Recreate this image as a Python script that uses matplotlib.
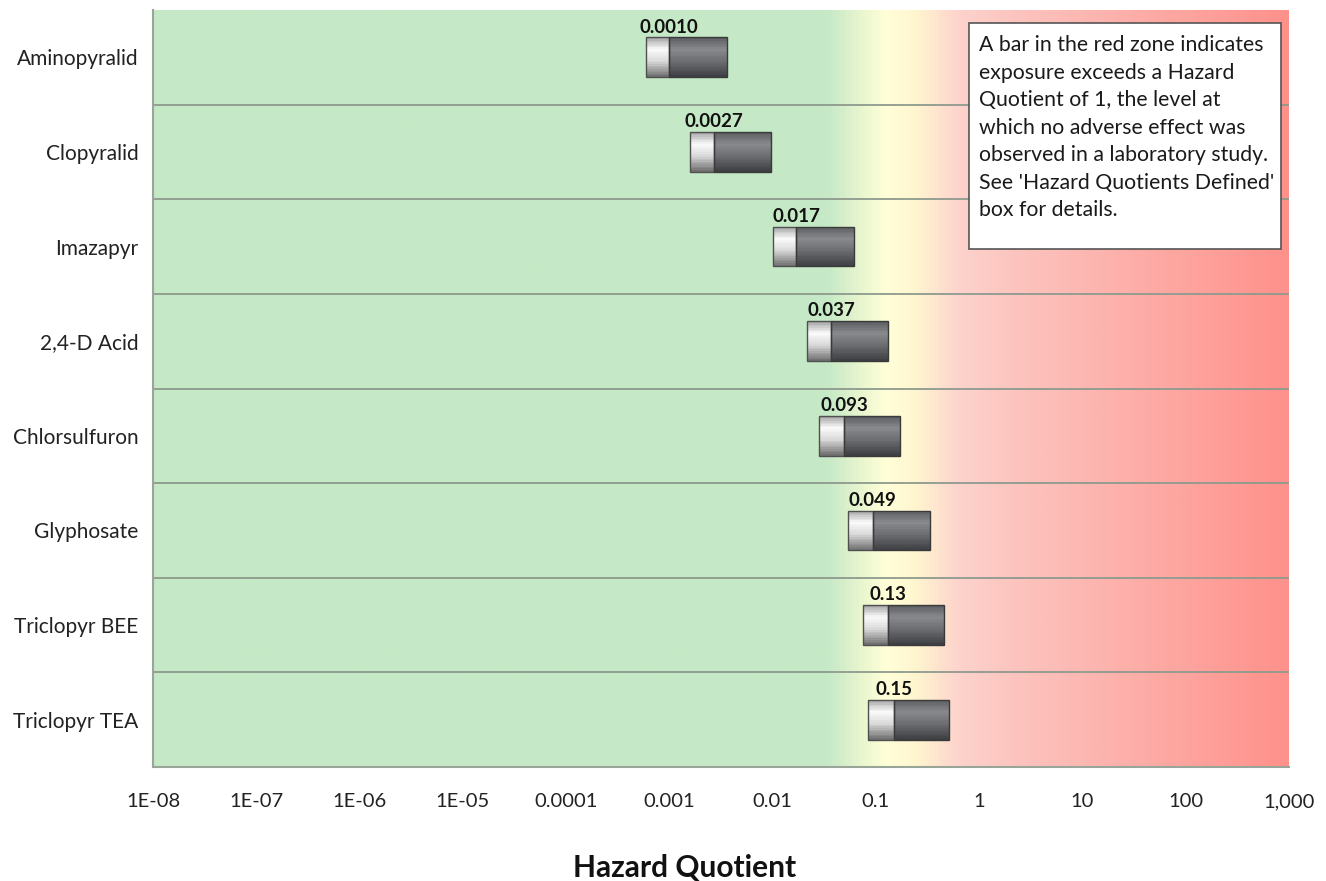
import numpy as np
import matplotlib
matplotlib.use('Agg')
import matplotlib.pyplot as plt
from matplotlib.colors import LinearSegmentedColormap
from matplotlib.patches import Rectangle
from matplotlib.transforms import ScaledTranslation

plt.rcParams['font.family'] = ['Lato', 'DejaVu Sans']

# data
chemicals = ['Aminopyralid', 'Clopyralid', 'Imazapyr', '2,4-D Acid',
             'Chlorsulfuron', 'Glyphosate', 'Triclopyr BEE', 'Triclopyr TEA']
hq_low = [0.00059, 0.0016, 0.010, 0.0215, 0.028, 0.0537, 0.075, 0.0839]
hq_typical = [0.0010, 0.0027, 0.017, 0.037, 0.049, 0.093, 0.13, 0.15]
hq_high = [0.0036, 0.0096, 0.061, 0.131, 0.171, 0.334, 0.457, 0.510]
value_labels = ['0.0010', '0.0027', '0.017', '0.037', '0.093', '0.049', '0.13', '0.15']
tick_vals = [1e-8, 1e-7, 1e-6, 1e-5, 1e-4, 1e-3, 1e-2, 1e-1, 1, 10, 100, 1000]
tick_labels = ['1E-08', '1E-07', '1E-06', '1E-05', '0.0001', '0.001', '0.01',
               '0.1', '1', '10', '100', '1,000']
note = ("A bar in the red zone indicates\nexposure exceeds a Hazard\n"
        "Quotient of 1, the level at\nwhich no adverse effect was\n"
        "observed in a laboratory study.\nSee 'Hazard Quotients Defined'\n"
        "box for details.")

fig = plt.figure(figsize=(13.26, 8.81), dpi=100)
ax = fig.add_axes([153/1326, 1 - 767/881, 1136/1326, 757/881])
ax.set_xscale('log')
ax.set_xlim(1e-8, 1e3)
ax.set_ylim(len(chemicals) - 0.5, -0.5)

# green -> yellow -> red background, spread in axes space
bg = LinearSegmentedColormap.from_list('zone', [
    (0.0, '#c5e8c6'), (0.595, '#c6e9c6'), (0.625, '#eaf6cf'),
    (0.645, '#ffffd8'), (0.672, '#fff6d0'), (0.71, '#fdd3cc'),
    (0.76, '#fcc4bf'), (1.0, '#ff918b')])
ax.imshow(np.linspace(0, 1, 512).reshape(1, -1), cmap=bg, aspect='auto',
          extent=[0, 1, 0, 1], transform=ax.transAxes, zorder=0)

for i in range(len(chemicals) - 1):
    ax.axhline(i + 0.5, color='#8e9a8e', lw=1.3, zorder=1)

light = LinearSegmentedColormap.from_list('light', [
    (0, '#a2a2a2'), (0.3, '#fbfbfb'), (0.6, '#d9d9d9'), (1, '#6c6c6c')])
dark = LinearSegmentedColormap.from_list('dark', [
    (0, '#5a5c5f'), (0.3, '#888a8d'), (0.6, '#6c6e71'), (1, '#3c3e41')])

h = 0.42
n = 24
y = np.arange(len(chemicals))
lo = np.array(hq_low)
mid = np.array(hq_typical)
hi = np.array(hq_high)
for j in range(n):
    t = (j + 0.5) / n
    yy = y - h / 2 + t * h
    ax.barh(yy, mid - lo, left=lo, height=h / n * 1.05, color=light(t), lw=0, zorder=2)
    ax.barh(yy, hi - mid, left=mid, height=h / n * 1.05, color=dark(t), lw=0, zorder=2)
ax.barh(y, mid - lo, left=lo, height=h, fill=False, edgecolor='#505050', lw=1, zorder=3)
ax.barh(y, hi - mid, left=mid, height=h, fill=False, edgecolor='#3a3a3a', lw=1, zorder=3)

for i, lab in enumerate(value_labels):
    ax.text(hq_typical[i], i - h / 2 - 0.02, lab, ha='center', va='bottom',
            fontsize=13.5, fontweight='bold', color='#111111', zorder=4)

ax.set_yticks(y)
ax.set_yticklabels(chemicals, fontsize=15, color='#222222')
shift = ScaledTranslation(0, -4/100, fig.dpi_scale_trans)
for lbl in ax.get_yticklabels():
    lbl.set_transform(lbl.get_transform() + shift)
ax.set_xticks(tick_vals)
ax.set_xticklabels(tick_labels, fontsize=14.5, color='#222222')
ax.xaxis.set_minor_locator(matplotlib.ticker.NullLocator())
ax.tick_params(axis='y', length=0, pad=10.5)
ax.tick_params(axis='x', length=0, pad=19)
for side in ['top', 'right']:
    ax.spines[side].set_visible(False)
for side in ['left', 'bottom']:
    ax.spines[side].set_color('#9aa59a')
    ax.spines[side].set_linewidth(1.5)
fig.text(684.5/1326, 1 - 868/881, 'Hazard Quotient', ha='center', va='center',
         fontsize=21.5, fontweight='bold', color='#111111')

fig.patches.append(Rectangle((969/1326, 1 - 249/881), 312/1326, 226/881,
                             transform=fig.transFigure, facecolor='white',
                             edgecolor='#555555', lw=1.2, zorder=5))
fig.text(979/1326, 1 - 35/881, note, ha='left', va='top', fontsize=15.3,
         linespacing=1.47, color='#1a1a1a', zorder=6)

fig.savefig('out.png', dpi=100)
